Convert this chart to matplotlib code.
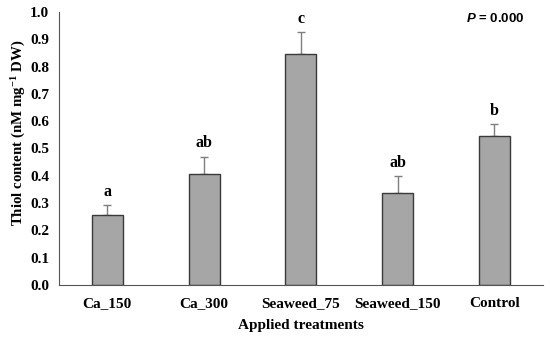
import numpy as np
from matplotlib import pyplot as plt

treatments = ["Ca_150", "Ca_300", "Seaweed_75", "Seaweed_150", "Control"]
thiol = [0.256, 0.405, 0.845, 0.338, 0.546]
errors = [0.035, 0.065, 0.080, 0.060, 0.043]
letters = ["a", "ab", "c", "ab", "b"]

serif = "Liberation Serif"
plt.rcParams["mathtext.fontset"] = "custom"
plt.rcParams["mathtext.rm"] = "Liberation Serif:bold"
plt.rcParams["mathtext.bf"] = "Liberation Serif:bold"
plt.rcParams["mathtext.it"] = "Liberation Sans:italic:bold"

fig = plt.figure(figsize=(5.5, 3.4), dpi=100)
ax = fig.add_axes([0.107, 0.162, 0.88, 0.803])

x = np.arange(len(treatments))
ax.bar(x, thiol, width=0.32, color="#a6a6a6", edgecolor="#3a3a3a", linewidth=1.0, zorder=2)
ax.errorbar(x, thiol, yerr=[np.zeros(len(errors)), errors], fmt="none",
            ecolor="#7f7f7f", elinewidth=1.0, capsize=3, capthick=1.0, zorder=1)

for xi, v, e, lab in zip(x, thiol, errors, letters):
    ax.text(xi, v + e + 0.035, lab, ha="center", va="baseline",
            fontsize=11.5, fontweight="bold", family=serif)

fig.text(525 / 550, 1 - 18 / 340, "$P$ = 0.000", ha="right", va="center",
         fontsize=9.5, fontweight="bold", family="Liberation Sans")

ax.set_xlim(-0.5, 4.5)
ax.set_ylim(0, 1.0)
ax.set_yticks(np.arange(0, 1.01, 0.1))
ax.set_yticklabels(["%.1f" % t for t in np.arange(0, 1.01, 0.1)])
ax.set_xticks(x)
ax.set_xticklabels(treatments)
for t in ax.get_xticklabels() + ax.get_yticklabels():
    t.set_family(serif)
    t.set_fontweight("bold")
    t.set_fontsize(11)
ax.tick_params(axis="both", length=0)
ax.tick_params(axis="x", pad=9)
ax.tick_params(axis="y", pad=7)

ax.spines["top"].set_visible(False)
ax.spines["right"].set_visible(False)
ax.spines["left"].set_color("#555555")
ax.spines["bottom"].set_color("#555555")

ax.set_xlabel("Applied treatments", family=serif, fontweight="bold", fontsize=11, labelpad=6)
ax.set_ylabel("Thiol content (nM mg$^{-1}$ DW)", family=serif, fontweight="bold", fontsize=10.7)
ax.yaxis.set_label_coords(-0.066, 0.557)

fig.savefig("out.png", dpi=100)
